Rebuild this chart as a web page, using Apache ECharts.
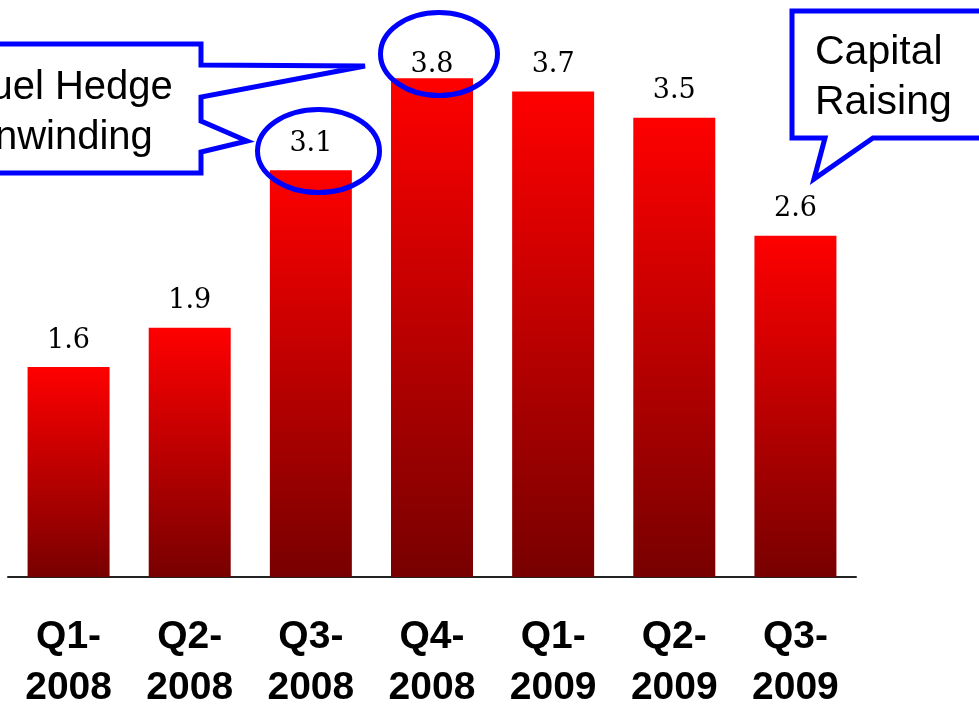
<!DOCTYPE html>
<html>
<head>
<meta charset="utf-8">
<script src="https://cdn.jsdelivr.net/npm/echarts@6/dist/echarts.min.js"></script>
<style>
html,body{margin:0;padding:0;background:#fff;}
#chart{width:979px;height:705px;}
</style>
</head>
<body>
<div id="chart"></div>
<script>
const categories = ['Q1-\n2008','Q2-\n2008','Q3-\n2008','Q4-\n2008','Q1-\n2009','Q2-\n2009','Q3-\n2009'];
const values = [1.6, 1.9, 3.1, 3.8, 3.7, 3.5, 2.6];
const fuelText = 'Fuel Hedge\nUnwinding';
const capitalText = 'Capital\nRaising';

const chart = echarts.init(document.getElementById('chart'));
const blue = '#0000ff';
const seriesData = values.map((v, i) => i === 3 ? {value: v, label: {distance: 0}} : v);
const option = {
  animation: false,
  backgroundColor: '#fff',
  grid: {left: 8, right: 123, top: 52, bottom: 128, containLabel: false, outerBoundsMode: 'none'},
  xAxis: {
    type: 'category',
    data: categories,
    axisLine: {lineStyle: {color: '#222', width: 2}},
    axisTick: {show: false},
    axisLabel: {
      color: '#000', fontFamily: 'Liberation Sans, Arial, sans-serif',
      fontWeight: 'bold', fontSize: 39, lineHeight: 51, margin: 35, interval: 0
    }
  },
  yAxis: {
    type: 'value', min: 0, max: 4, show: false, splitLine: {show: false}
  },
  series: [{
    type: 'bar',
    data: seriesData,
    barWidth: 82,
    itemStyle: {
      color: new echarts.graphic.LinearGradient(0, 0, 0, 1, [
        {offset: 0, color: '#ff0000'},
        {offset: 1, color: '#780000'}
      ])
    },
    label: {
      show: true, position: 'top', distance: 13,
      color: '#000', fontFamily: 'DejaVu Serif, serif', fontSize: 27
    }
  }],
  graphic: [
    {
      type: 'polygon', z: 100,
      shape: {points: [[-10,44],[201,44],[201,65],[365,66],[201,97],[201,121],[247,141],[201,152],[201,173],[-10,173]]},
      style: {fill: '#fff', stroke: blue, lineWidth: 5, lineJoin: 'miter'}
    },
    {
      type: 'text', z: 101, left: -34, top: 63,
      style: {text: fuelText, fill: '#000', font: '40px "Liberation Sans", Arial, sans-serif', lineHeight: 50}
    },
    {
      type: 'polygon', z: 100,
      shape: {points: [[792,11],[990,11],[990,138],[873,138],[814,179],[825,138],[792,138]]},
      style: {fill: '#fff', stroke: blue, lineWidth: 5, lineJoin: 'miter'}
    },
    {
      type: 'text', z: 101, left: 815, top: 28,
      style: {text: capitalText, fill: '#000', font: '41px "Liberation Sans", Arial, sans-serif', lineHeight: 50}
    },
    {
      type: 'ellipse', z: 100,
      shape: {cx: 439, cy: 54, rx: 58.5, ry: 41.5},
      style: {fill: 'none', stroke: blue, lineWidth: 5}
    },
    {
      type: 'ellipse', z: 100,
      shape: {cx: 318.5, cy: 151, rx: 61, ry: 41.5},
      style: {fill: 'none', stroke: blue, lineWidth: 5}
    }
  ]
};
chart.setOption(option);
</script>
</body>
</html>
